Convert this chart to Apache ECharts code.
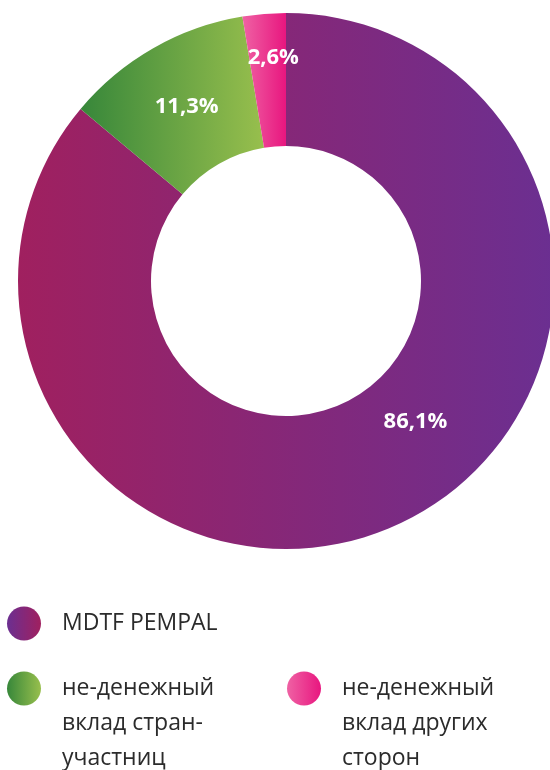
<!DOCTYPE html>
<html>
<head>
<meta charset="utf-8">
<script src="https://cdn.jsdelivr.net/npm/echarts@6/dist/echarts.min.js"></script>
<style>
  html, body { margin: 0; padding: 0; background: #fff; }
  #chart { width: 550px; height: 770px; }
</style>
</head>
<body>
<div id="chart"></div>
<script>
// данные
var names = ['MDTF PEMPAL', 'не-денежный\nвклад стран-\nучастниц', 'не-денежный\nвклад других\nсторон'];
var values = [86.1, 11.3, 2.6];
var labels = ['86,1%', '11,3%', '2,6%'];

// градиенты: [слева, справа]
var sliceColors = [['#a0205f', '#6b2f91'], ['#37873a', '#98bf4d'], ['#ef62a4', '#e8167f']];
var legendColors = [['#6b2f91', '#a0205f'], ['#37873a', '#98bf4d'], ['#ef62a4', '#e8167f']];
// сдвиг подписей
var labelShift = [[43, -45], [2, 3], [4, -19]];

function grad(c) {
  return new echarts.graphic.LinearGradient(0, 0, 1, 0, [
    { offset: 0, color: c[0] },
    { offset: 1, color: c[1] }
  ]);
}

var chart = echarts.init(document.getElementById('chart'));

var legendBase = {
  icon: 'circle',
  itemWidth: 34,
  itemHeight: 34,
  orient: 'vertical',
  selectedMode: false,
  // пустые строки сверху, чтобы иконка стояла у первой строки
  formatter: function (name) {
    var n = name.split('\n').length;
    return new Array(n).join('\n') + name;
  },
  textStyle: {
    color: '#2b2b2b',
    fontSize: 23,
    fontFamily: 'Open Sans',
    lineHeight: 35,
    padding: [0, 0, 0, 16]
  }
};

var option = {
  animation: false,
  legend: [
    Object.assign({}, legendBase, {
      left: 2, top: 601,
      data: [{ name: names[0], itemStyle: { color: grad(legendColors[0]) } }]
    }),
    Object.assign({}, legendBase, {
      left: 2, top: 596,
      data: [{ name: names[1], itemStyle: { color: grad(legendColors[1]) } }]
    }),
    Object.assign({}, legendBase, {
      left: 282, top: 596,
      data: [{ name: names[2], itemStyle: { color: grad(legendColors[2]) } }]
    })
  ],
  series: [{
    type: 'pie',
    center: [286, 281],
    radius: [135, 268],
    startAngle: 90,
    clockwise: true,
    silent: true,
    label: {
      show: true,
      position: 'inside',
      color: '#fff',
      fontSize: 22,
      fontWeight: 'bold',
      fontFamily: 'Open Sans',
      formatter: function (p) { return labels[p.dataIndex]; }
    },
    labelLine: { show: false },
    labelLayout: function (p) {
      return { dx: labelShift[p.dataIndex][0], dy: labelShift[p.dataIndex][1] };
    },
    data: names.map(function (n, i) {
      return { name: n, value: values[i], itemStyle: { color: grad(sliceColors[i]) } };
    })
  }]
};

chart.setOption(option);
</script>
</body>
</html>
